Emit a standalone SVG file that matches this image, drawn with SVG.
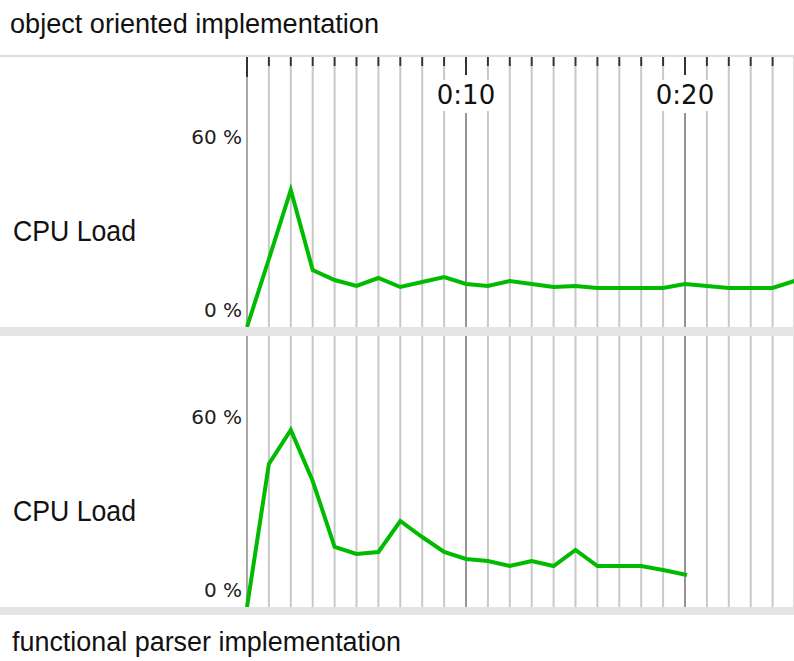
<svg xmlns="http://www.w3.org/2000/svg" width="794" height="661" viewBox="0 0 794 661">
<defs>
<style>
.title{font-family:"Liberation Sans",Arial,sans-serif;font-size:27px;fill:#111}
.ylab{font-family:"Liberation Sans",Arial,sans-serif;font-size:29px;fill:#111}
.pct{font-family:"DejaVu Sans",sans-serif;font-size:20px;fill:#222;text-anchor:end}
.time{font-family:"DejaVu Sans",sans-serif;font-size:26px;fill:#111;text-anchor:middle}
.minor{stroke:#c8c8c8;stroke-width:2}
.major{stroke:#7a7a7a;stroke-width:1.6}
.tick{stroke:#333;stroke-width:2}
.band{fill:#e4e4e4}
.data{fill:none;stroke:#00bb00;stroke-width:4;stroke-linejoin:miter}
</style>
<g id="gridlines">
<line class="minor" x1="247" y1="0" x2="247" y2="1"/>
</g>
</defs>
<rect width="794" height="661" fill="#fff"/>
<text class="title" x="10" y="33" textLength="369" lengthAdjust="spacingAndGlyphs">object oriented implementation</text>
<line x1="0" y1="56" x2="794" y2="56" stroke="#dedede" stroke-width="2"/>

<g id="top-panel">
<g id="top-grid">
<line stroke="#a8a8a8" stroke-width="2" x1="247" y1="76" x2="247" y2="327"/>
<line class="minor" x1="268.9" y1="66" x2="268.9" y2="327"/>
<line class="minor" x1="290.8" y1="66" x2="290.8" y2="327"/>
<line class="minor" x1="312.7" y1="66" x2="312.7" y2="327"/>
<line class="minor" x1="334.6" y1="66" x2="334.6" y2="327"/>
<line class="minor" x1="356.5" y1="66" x2="356.5" y2="327"/>
<line class="minor" x1="378.4" y1="66" x2="378.4" y2="327"/>
<line class="minor" x1="400.3" y1="66" x2="400.3" y2="327"/>
<line class="minor" x1="422.2" y1="66" x2="422.2" y2="327"/>
<line class="minor" x1="444.1" y1="66" x2="444.1" y2="327"/>
<line class="major" x1="466" y1="113" x2="466" y2="327"/>
<line class="minor" x1="487.9" y1="66" x2="487.9" y2="327"/>
<line class="minor" x1="509.8" y1="66" x2="509.8" y2="327"/>
<line class="minor" x1="531.7" y1="66" x2="531.7" y2="327"/>
<line class="minor" x1="553.6" y1="66" x2="553.6" y2="327"/>
<line class="minor" x1="575.5" y1="66" x2="575.5" y2="327"/>
<line class="minor" x1="597.4" y1="66" x2="597.4" y2="327"/>
<line class="minor" x1="619.3" y1="66" x2="619.3" y2="327"/>
<line class="minor" x1="641.2" y1="66" x2="641.2" y2="327"/>
<line class="minor" x1="663.1" y1="66" x2="663.1" y2="327"/>
<line class="major" x1="685" y1="113" x2="685" y2="327"/>
<line class="minor" x1="706.9" y1="66" x2="706.9" y2="327"/>
<line class="minor" x1="728.8" y1="66" x2="728.8" y2="327"/>
<line class="minor" x1="750.7" y1="66" x2="750.7" y2="327"/>
<line class="minor" x1="772.6" y1="66" x2="772.6" y2="327"/>
<line stroke="#e0e0e0" stroke-width="2" x1="794" y1="57" x2="794" y2="327"/>
</g>
<g id="ticks">
<line class="tick" x1="247" y1="57" x2="247" y2="77"/>
<line class="tick" x1="268.9" y1="57" x2="268.9" y2="66"/>
<line class="tick" x1="290.8" y1="57" x2="290.8" y2="66"/>
<line class="tick" x1="312.7" y1="57" x2="312.7" y2="66"/>
<line class="tick" x1="334.6" y1="57" x2="334.6" y2="66"/>
<line class="tick" x1="356.5" y1="57" x2="356.5" y2="66"/>
<line class="tick" x1="378.4" y1="57" x2="378.4" y2="66"/>
<line class="tick" x1="400.3" y1="57" x2="400.3" y2="66"/>
<line class="tick" x1="422.2" y1="57" x2="422.2" y2="66"/>
<line class="tick" x1="444.1" y1="57" x2="444.1" y2="66"/>
<line class="tick" x1="466" y1="57" x2="466" y2="75"/>
<line class="tick" x1="487.9" y1="57" x2="487.9" y2="66"/>
<line class="tick" x1="509.8" y1="57" x2="509.8" y2="66"/>
<line class="tick" x1="531.7" y1="57" x2="531.7" y2="66"/>
<line class="tick" x1="553.6" y1="57" x2="553.6" y2="66"/>
<line class="tick" x1="575.5" y1="57" x2="575.5" y2="66"/>
<line class="tick" x1="597.4" y1="57" x2="597.4" y2="66"/>
<line class="tick" x1="619.3" y1="57" x2="619.3" y2="66"/>
<line class="tick" x1="641.2" y1="57" x2="641.2" y2="66"/>
<line class="tick" x1="663.1" y1="57" x2="663.1" y2="66"/>
<line class="tick" x1="685" y1="57" x2="685" y2="75"/>
<line class="tick" x1="706.9" y1="57" x2="706.9" y2="66"/>
<line class="tick" x1="728.8" y1="57" x2="728.8" y2="66"/>
<line class="tick" x1="750.7" y1="57" x2="750.7" y2="66"/>
<line class="tick" x1="772.6" y1="57" x2="772.6" y2="66"/>
</g>
<rect x="434" y="80" width="64" height="31" fill="#fff"/>
<rect x="653" y="80" width="64" height="31" fill="#fff"/>
<text class="time" x="466" y="104">0:10</text>
<text class="time" x="685" y="104">0:20</text>
<text class="pct" x="242" y="144">60 %</text>
<text class="pct" x="242" y="317">0 %</text>
<text class="ylab" x="13" y="241" textLength="123" lengthAdjust="spacingAndGlyphs">CPU Load</text>
<polyline class="data" points="247,327 268.9,259 290.8,190 312.7,270 334.6,280 356.5,286 378.4,278 400.3,287 422.2,282 444.1,277 466,284 487.9,286 509.8,281 531.7,284 553.6,287 575.5,286 597.4,288 619.3,288 641.2,288 663.1,288 685,284 706.9,286 728.8,288 750.7,288 772.6,288 794.5,281"/>
</g>

<g id="bottom-panel">
<g id="bottom-grid">
<line stroke="#a8a8a8" stroke-width="2" x1="247" y1="336" x2="247" y2="607"/>
<line class="minor" x1="268.9" y1="336" x2="268.9" y2="607"/>
<line class="minor" x1="290.8" y1="336" x2="290.8" y2="607"/>
<line class="minor" x1="312.7" y1="336" x2="312.7" y2="607"/>
<line class="minor" x1="334.6" y1="336" x2="334.6" y2="607"/>
<line class="minor" x1="356.5" y1="336" x2="356.5" y2="607"/>
<line class="minor" x1="378.4" y1="336" x2="378.4" y2="607"/>
<line class="minor" x1="400.3" y1="336" x2="400.3" y2="607"/>
<line class="minor" x1="422.2" y1="336" x2="422.2" y2="607"/>
<line class="minor" x1="444.1" y1="336" x2="444.1" y2="607"/>
<line class="major" x1="466" y1="336" x2="466" y2="607"/>
<line class="minor" x1="487.9" y1="336" x2="487.9" y2="607"/>
<line class="minor" x1="509.8" y1="336" x2="509.8" y2="607"/>
<line class="minor" x1="531.7" y1="336" x2="531.7" y2="607"/>
<line class="minor" x1="553.6" y1="336" x2="553.6" y2="607"/>
<line class="minor" x1="575.5" y1="336" x2="575.5" y2="607"/>
<line class="minor" x1="597.4" y1="336" x2="597.4" y2="607"/>
<line class="minor" x1="619.3" y1="336" x2="619.3" y2="607"/>
<line class="minor" x1="641.2" y1="336" x2="641.2" y2="607"/>
<line class="minor" x1="663.1" y1="336" x2="663.1" y2="607"/>
<line class="major" x1="685" y1="336" x2="685" y2="607"/>
<line class="minor" x1="706.9" y1="336" x2="706.9" y2="607"/>
<line class="minor" x1="728.8" y1="336" x2="728.8" y2="607"/>
<line class="minor" x1="750.7" y1="336" x2="750.7" y2="607"/>
<line class="minor" x1="772.6" y1="336" x2="772.6" y2="607"/>
<line stroke="#e0e0e0" stroke-width="2" x1="794" y1="336" x2="794" y2="607"/>
</g>
<text class="pct" x="242" y="424">60 %</text>
<text class="pct" x="242" y="597">0 %</text>
<text class="ylab" x="13" y="521" textLength="123" lengthAdjust="spacingAndGlyphs">CPU Load</text>
<polyline class="data" points="247,607 268.9,464 290.8,430 312.7,481 334.6,547 356.5,554 378.4,552 400.3,521 422.2,537 444.1,552 466,559 487.9,561 509.8,566 531.7,561 553.6,566 575.5,550 597.4,566 619.3,566 641.2,566 663.1,570 687,575"/>
</g>

<rect class="band" x="0" y="327" width="794" height="9"/>
<rect class="band" x="0" y="607" width="794" height="8"/>
<text class="title" x="12" y="651" textLength="389" lengthAdjust="spacingAndGlyphs">functional parser implementation</text>
</svg>
